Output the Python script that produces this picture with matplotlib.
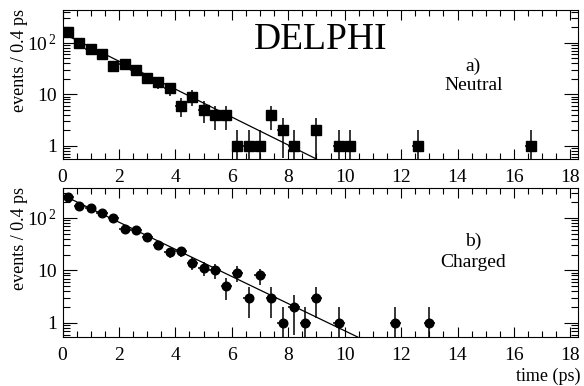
import matplotlib
matplotlib.use('Agg')
import matplotlib.pyplot as plt
import matplotlib.ticker as mticker
import numpy as np

plt.rcParams['font.family'] = ['Liberation Serif', 'DejaVu Serif']
plt.rcParams['font.size'] = 12
plt.rcParams['axes.linewidth'] = 0.8

# bin centres (ps) and counts per 0.4 ps bin
t_neutral = [0.2, 0.6, 1.0, 1.4, 1.8, 2.2, 2.6, 3.0, 3.4, 3.8, 4.2, 4.6, 5.0,
             5.4, 5.8, 6.2, 6.6, 7.0, 7.4, 7.8, 8.2, 9.0, 9.8, 10.2, 12.6, 16.6]
n_neutral = [161, 101, 76, 60, 36, 39, 30, 21, 17, 13, 6, 9, 5,
             4, 4, 1, 1, 1, 4, 2, 1, 2, 1, 1, 1, 1]

t_charged = [0.2, 0.6, 1.0, 1.4, 1.8, 2.2, 2.6, 3.0, 3.4, 3.8, 4.2, 4.6, 5.0,
             5.4, 5.8, 6.2, 6.6, 7.0, 7.4, 7.8, 8.2, 8.6, 9.0, 9.8, 11.8, 13.0]
n_charged = [245, 168, 154, 123, 99, 62, 59, 44, 31, 22, 23, 14, 11,
             10, 5, 9, 3, 8, 3, 1, 2, 1, 3, 1, 1, 1]

# fitted exponentials (straight lines on the log scale), end points
fit_t_neutral = [0.0, 9.0]
fit_neutral = [154, 0.55]
fit_t_charged = [0.0, 10.46]
fit_charged = [272, 0.54]

HALF_BIN = 0.2
XLIM = (0.0, 18.27)

W, H = 584, 386
fig = plt.figure(figsize=(W / 100, H / 100), dpi=100)

ax_a = fig.add_axes([62.5 / W, 1 - 159 / H, 515.5 / W, 149 / H])
ax_b = fig.add_axes([62.5 / W, 1 - 337 / H, 515.5 / W, 149 / H])


def draw_panel(ax, t, n, fit_t, fit_n, marker, ms, ylim, tag, name, tag_y, name_y):
    n = np.array(n, dtype=float)
    err = np.sqrt(n)
    err_lo = np.minimum(err, n * 0.999)
    ax.errorbar(t, n, yerr=[err_lo, err], xerr=HALF_BIN, fmt=marker, ms=ms,
                color='black', ecolor='black', elinewidth=1.1, capsize=0,
                zorder=3)
    ax.plot(fit_t, fit_n, color='black', lw=0.9, zorder=2)

    ax.set_yscale('log')
    ax.set_xlim(XLIM)
    ax.set_ylim(ylim)

    ax.xaxis.set_major_locator(mticker.MultipleLocator(2))
    ax.xaxis.set_minor_locator(mticker.MultipleLocator(0.5))
    ax.set_yticks([1, 10, 100])
    ax.set_yticklabels(['1', '10', r'$\mathregular{10^{\,2}}$'])
    ax.yaxis.set_minor_locator(mticker.LogLocator(base=10, subs=np.arange(2, 10)))
    ax.yaxis.set_minor_formatter(mticker.NullFormatter())

    ax.tick_params(which='both', direction='in', top=True, right=True,
                   width=0.8, labelsize=14)
    ax.tick_params(axis='x', which='major', length=7, pad=7)
    ax.tick_params(axis='x', which='minor', length=4)
    ax.tick_params(axis='y', which='major', length=10, pad=4)
    ax.tick_params(axis='y', which='minor', length=5)

    ax.text(0.797, tag_y, tag, transform=ax.transAxes, ha='center',
            va='center', fontsize=14)
    ax.text(0.797, name_y, name, transform=ax.transAxes, ha='center',
            va='center', fontsize=14)


draw_panel(ax_a, t_neutral, n_neutral, fit_t_neutral, fit_neutral, 's', 6.5,
           (0.55, 436), 'a)', 'Neutral', 0.62, 0.49)
draw_panel(ax_b, t_charged, n_charged, fit_t_charged, fit_charged, 'o', 6.2,
           (0.54, 370), 'b)', 'Charged', 0.64, 0.50)

ax_a.text(0.50, 0.80, 'DELPHI', transform=ax_a.transAxes, ha='center',
          va='center', fontsize=27)

fig.text(20 / W, 1 - 60 / H, 'events / 0.4 ps', rotation=90, ha='center',
         va='center', fontsize=13)
fig.text(20 / W, 1 - 239 / H, 'events / 0.4 ps', rotation=90, ha='center',
         va='center', fontsize=13)
fig.text(581 / W, 1 - 376 / H, 'time (ps)', ha='right', va='center',
         fontsize=13)

fig.savefig('out.png', dpi=100)
